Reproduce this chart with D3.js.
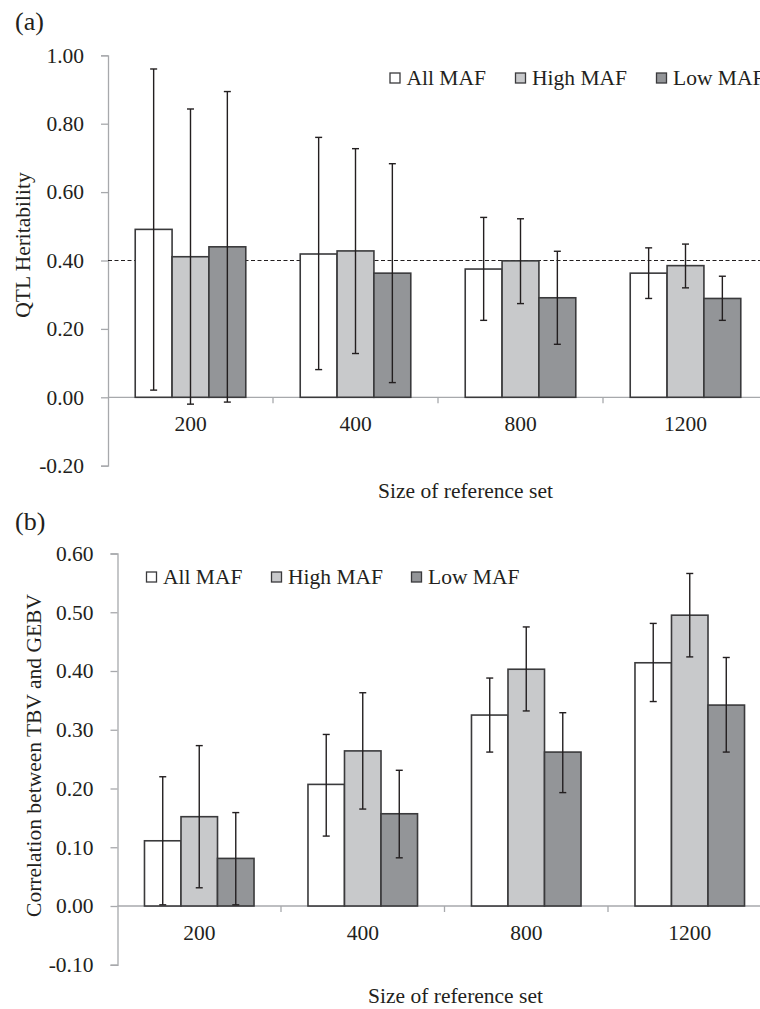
<!DOCTYPE html>
<html>
<head>
<meta charset="utf-8">
<script src="https://cdn.jsdelivr.net/npm/d3@7"></script>
<style>
  html, body { margin: 0; padding: 0; background: #fff; }
  svg { display: block; }
  text { font-family: "Liberation Serif", "Times New Roman", serif; fill: #231f20; }
</style>
</head>
<body>
<svg id="chart" width="760" height="1009"></svg>
<script>
// ---------- data ----------
const categories = ["200", "400", "800", "1200"];
const seriesNames = ["All MAF", "High MAF", "Low MAF"];

// (a) QTL heritability
const heritAll = [0.491, 0.419, 0.375, 0.363];
const heritAllLo = [0.021, 0.081, 0.225, 0.289];
const heritAllHi = [0.960, 0.760, 0.526, 0.437];
const heritHigh = [0.411, 0.428, 0.399, 0.385];
const heritHighLo = [-0.020, 0.128, 0.274, 0.320];
const heritHighHi = [0.843, 0.727, 0.522, 0.448];
const heritLow = [0.440, 0.363, 0.291, 0.289];
const heritLowLo = [-0.014, 0.043, 0.155, 0.225];
const heritLowHi = [0.894, 0.683, 0.427, 0.354];
const heritTicks = [-0.2, 0, 0.2, 0.4, 0.6, 0.8, 1.0];
const heritReference = 0.4;

// (b) correlation between TBV and GEBV
const corrAll = [0.111, 0.207, 0.325, 0.414];
const corrAllLo = [0.002, 0.119, 0.262, 0.348];
const corrAllHi = [0.220, 0.292, 0.388, 0.481];
const corrHigh = [0.152, 0.264, 0.403, 0.495];
const corrHighLo = [0.031, 0.165, 0.332, 0.424];
const corrHighHi = [0.273, 0.363, 0.475, 0.566];
const corrLow = [0.081, 0.157, 0.262, 0.342];
const corrLowLo = [0.002, 0.082, 0.193, 0.262];
const corrLowHi = [0.159, 0.231, 0.329, 0.423];
const corrTicks = [-0.1, 0, 0.1, 0.2, 0.3, 0.4, 0.5, 0.6];

const fills = ["#ffffff", "#c8c9cb", "#939598"];

function buildRows(vals, los, his) {
  const rows = [];
  categories.forEach((c, i) => {
    seriesNames.forEach((s, j) => {
      rows.push({ cat: c, series: s, idx: j, v: vals[j][i], lo: los[j][i], hi: his[j][i] });
    });
  });
  return rows;
}

const svg = d3.select("#chart");
const FONT = 21.5;
const AXIS_COL = "#a7a9ac";
const fmt = v => d3.format(".2f")(v).replace("\u2212", "-");

function drawPanel(opt) {
  const g = svg.append("g");
  const x = d3.scaleBand().domain(categories).range([opt.left, opt.right]).padding(0);
  const bw = x.bandwidth();
  const inner = d3.scaleBand().domain(seriesNames).range([bw * 0.165, bw * 0.835]).padding(0);
  const y = d3.scaleLinear().domain(opt.domain).range([opt.bottom, opt.top]);

  // y axis
  const yAxis = d3.axisLeft(y).tickValues(opt.ticks).tickFormat(fmt).tickSize(7).tickPadding(17);
  const ya = g.append("g").attr("transform", `translate(${opt.left},0)`).call(yAxis);
  ya.attr("font-family", null);
  ya.select(".domain").attr("stroke", AXIS_COL).attr("stroke-width", 1.3);
  ya.selectAll(".tick line").attr("stroke", AXIS_COL).attr("stroke-width", 1.3);
  ya.selectAll(".tick text").attr("font-size", FONT).attr("fill", "#231f20");

  // x axis line at zero
  const y0 = y(0);
  g.append("line").attr("x1", opt.left).attr("x2", opt.right).attr("y1", y0).attr("y2", y0)
    .attr("stroke", AXIS_COL).attr("stroke-width", 1.3);
  // category boundary ticks
  const bounds = categories.map(c => x(c) + bw);
  g.selectAll(".btick").data(bounds).join("line")
    .attr("x1", d => d).attr("x2", d => d).attr("y1", y0).attr("y2", y0 + 6)
    .attr("stroke", AXIS_COL).attr("stroke-width", 1.3);
  // category labels
  g.selectAll(".clab").data(categories).join("text")
    .attr("x", d => x(d) + bw / 2).attr("y", y0 + 34)
    .attr("text-anchor", "middle").attr("font-size", FONT).text(d => d);

  // reference line
  if (opt.refLine !== undefined) {
    g.append("line").attr("x1", opt.left).attr("x2", 760)
      .attr("y1", y(opt.refLine)).attr("y2", y(opt.refLine))
      .attr("stroke", "#231f20").attr("stroke-width", 1).attr("stroke-dasharray", "4,2.5");
  }

  // bars
  const rows = opt.rows;
  g.selectAll(".bar").data(rows).join("rect")
    .attr("x", d => x(d.cat) + inner(d.series))
    .attr("y", d => y(d.v))
    .attr("width", inner.bandwidth())
    .attr("height", d => y(0) - y(d.v))
    .attr("fill", d => fills[d.idx])
    .attr("stroke", "#3a3a3c").attr("stroke-width", 1.6);

  // error bars
  const cx = d => x(d.cat) + inner(d.series) + inner.bandwidth() / 2;
  const eg = g.append("g").attr("stroke", "#231f20").attr("stroke-width", 1.4);
  eg.selectAll(".ev").data(rows).join("line")
    .attr("x1", cx).attr("x2", cx).attr("y1", d => y(d.lo)).attr("y2", d => y(d.hi));
  eg.selectAll(".et").data(rows).join("line")
    .attr("x1", d => cx(d) - 3.5).attr("x2", d => cx(d) + 3.5).attr("y1", d => y(d.hi)).attr("y2", d => y(d.hi));
  eg.selectAll(".eb").data(rows).join("line")
    .attr("x1", d => cx(d) - 3.5).attr("x2", d => cx(d) + 3.5).attr("y1", d => y(d.lo)).attr("y2", d => y(d.lo));

  // legend
  const lg = g.append("g");
  seriesNames.forEach((s, j) => {
    const lx = opt.legendX[j];
    lg.append("rect").attr("x", lx).attr("y", opt.legendY - 12).attr("width", 10).attr("height", 10)
      .attr("fill", fills[j]).attr("stroke", "#3a3a3c").attr("stroke-width", 1.3);
    lg.append("text").attr("x", lx + 16.5).attr("y", opt.legendY).attr("font-size", FONT).text(s);
  });

  // axis titles
  g.append("text").attr("x", opt.xTitleX).attr("y", opt.xTitleY).attr("text-anchor", "middle")
    .attr("font-size", FONT).text("Size of reference set");
  g.append("text").attr("transform", `translate(${opt.yTitleX},${opt.yTitleY}) rotate(-90)`)
    .attr("text-anchor", "middle").attr("font-size", FONT).text(opt.yTitle);
  // panel label
  g.append("text").attr("x", 15).attr("y", opt.labelY).attr("font-size", 26).text(opt.label);
}

drawPanel({
  rows: buildRows([heritAll, heritHigh, heritLow], [heritAllLo, heritHighLo, heritLowLo], [heritAllHi, heritHighHi, heritLowHi]),
  left: 108, right: 768, top: 55.3, bottom: 465.7,
  domain: [-0.2, 1.0], ticks: heritTicks, refLine: heritReference,
  legendX: [390, 515.5, 656.5], legendY: 85,
  xTitleX: 465.5, xTitleY: 498,
  yTitleX: 30, yTitleY: 245, yTitle: "QTL Heritability",
  label: "(a)", labelY: 30
});

drawPanel({
  rows: buildRows([corrAll, corrHigh, corrLow], [corrAllLo, corrHighLo, corrLowLo], [corrAllHi, corrHighHi, corrLowHi]),
  left: 117.5, right: 771.5, top: 553.5, bottom: 964.75,
  domain: [-0.1, 0.6], ticks: corrTicks,
  legendX: [146.5, 271.5, 411.5], legendY: 584,
  xTitleX: 455.5, xTitleY: 1003,
  yTitleX: 41, yTitleY: 755.5, yTitle: "Correlation between TBV and GEBV",
  label: "(b)", labelY: 530
});
</script>
</body>
</html>
